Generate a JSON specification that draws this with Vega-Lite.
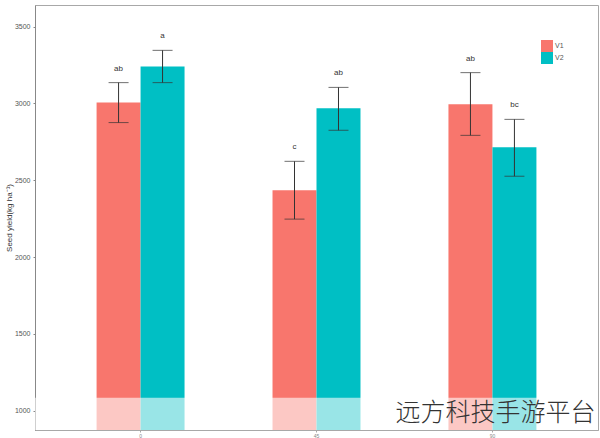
{
  "$schema": "https://vega.github.io/schema/vega-lite/v6.json",
  "width": 563,
  "height": 425,
  "autosize": {"type": "none"},
  "padding": {"left": 35, "top": 5, "right": 2, "bottom": 8},
  "background": "white",
  "config": {
    "view": {"stroke": "#a8a8a8", "strokeWidth": 1},
    "font": "Liberation Sans"
  },
  "data": {
    "values": [
      {"N": "0", "Variety": "V1", "yield": 3005, "lower": 2875, "upper": 3135, "letter": "ab"},
      {"N": "0", "Variety": "V2", "yield": 3240, "lower": 3135, "upper": 3345, "letter": "a"},
      {"N": "45", "Variety": "V1", "yield": 2435, "lower": 2247, "upper": 2623, "letter": "c"},
      {"N": "45", "Variety": "V2", "yield": 2968, "lower": 2825, "upper": 3104, "letter": "ab"},
      {"N": "90", "Variety": "V1", "yield": 2995, "lower": 2792, "upper": 3200, "letter": "ab"},
      {"N": "90", "Variety": "V2", "yield": 2714, "lower": 2526, "upper": 2896, "letter": "bc"}
    ]
  },
  "encoding": {
    "x": {
      "field": "N",
      "type": "nominal",
      "scale": {"paddingInner": 0.5, "paddingOuter": 0.35},
      "axis": {
        "title": null,
        "labelAngle": 0,
        "labelFontSize": 5,
        "labelColor": "#888888",
        "domainColor": "#a8a8a8",
        "tickSize": 2,
        "tickColor": "#a8a8a8",
        "labelPadding": 1
      }
    },
    "xOffset": {"field": "Variety", "type": "nominal"}
  },
  "layer": [
    {
      "mark": {"type": "bar", "clip": true},
      "encoding": {
        "y": {
          "field": "yield",
          "type": "quantitative",
          "scale": {"domain": [875, 3640], "nice": false, "zero": false},
          "axis": {
            "title": "Seed yield(kg ha⁻¹)",
            "titleFontSize": 8,
            "titleFontWeight": "normal",
            "titleColor": "#333333",
            "titlePadding": 1,
            "values": [1000, 1500, 2000, 2500, 3000, 3500],
            "format": "d",
            "labelFontSize": 7,
            "labelColor": "#555555",
            "grid": false,
            "domainColor": "#888888",
            "tickSize": 2,
            "tickColor": "#888888",
            "labelPadding": 3
          }
        },
        "color": {
          "field": "Variety",
          "type": "nominal",
          "scale": {"domain": ["V1", "V2"], "range": ["#F8766D", "#00BFC4"]},
          "legend": {
            "title": null,
            "orient": "none",
            "legendX": 506,
            "legendY": 35,
            "symbolType": "square",
            "symbolSize": 144,
            "symbolStrokeWidth": 0,
            "symbolOpacity": 1,
            "labelFontSize": 7,
            "labelColor": "#555555",
            "rowPadding": 0,
            "labelOffset": 2
          }
        }
      }
    },
    {
      "mark": {"type": "rule", "color": "#333333", "strokeWidth": 1},
      "encoding": {
        "y": {"field": "lower", "type": "quantitative"},
        "y2": {"field": "upper"}
      }
    },
    {
      "mark": {"type": "tick", "color": "#333333", "thickness": 1, "size": 20},
      "encoding": {"y": {"field": "lower", "type": "quantitative"}}
    },
    {
      "mark": {"type": "tick", "color": "#333333", "thickness": 1, "size": 20},
      "encoding": {"y": {"field": "upper", "type": "quantitative"}}
    },
    {
      "mark": {"type": "text", "fontSize": 8, "color": "#333333", "baseline": "middle", "dy": -14},
      "encoding": {
        "y": {"field": "upper", "type": "quantitative"},
        "text": {"field": "letter"}
      }
    },
    {
      "data": {"values": [{"lo": 875, "hi": 1085}]},
      "mark": {"type": "rect", "color": "white", "opacity": 0.6, "clip": true},
      "encoding": {
        "xOffset": null,
        "x": null,
        "y": {"field": "lo", "type": "quantitative"},
        "y2": {"field": "hi"}
      }
    },
    {
      "data": {"values": [{"N": "90", "y": 1000, "label": "远方科技手游平台"}]},
      "mark": {"type": "text", "fontSize": 25, "font": "Noto Sans CJK SC", "fontWeight": 300, "color": "#333333", "align": "center", "baseline": "middle", "dx": 3, "dy": 2},
      "encoding": {
        "xOffset": null,
        "x": {"field": "N", "type": "nominal"},
        "y": {"field": "y", "type": "quantitative"},
        "text": {"field": "label"}
      }
    }
  ]
}
